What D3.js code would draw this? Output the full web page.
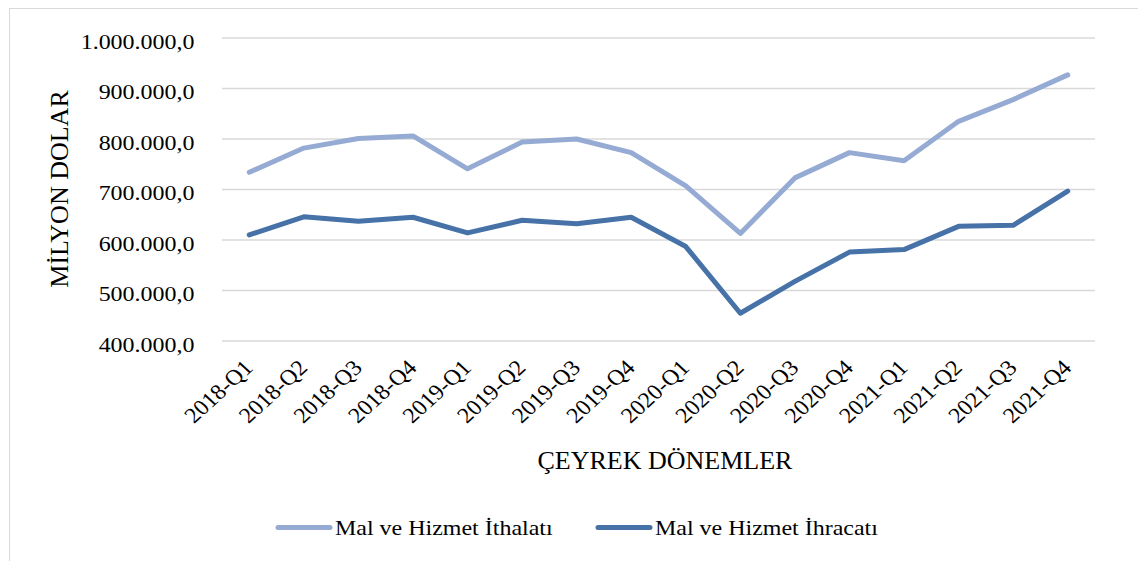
<!DOCTYPE html>
<html>
<head>
<meta charset="utf-8">
<script src="https://cdn.jsdelivr.net/npm/d3@7"></script>
<style>
  html, body { margin: 0; padding: 0; background: #fff; }
  svg { display: block; }
  text { font-family: "Liberation Serif", "Times New Roman", serif; fill: #000; }
</style>
</head>
<body>
<svg id="chart" width="1138" height="561"></svg>
<script>
const categories = ["2018-Q1","2018-Q2","2018-Q3","2018-Q4","2019-Q1","2019-Q2","2019-Q3","2019-Q4",
                    "2020-Q1","2020-Q2","2020-Q3","2020-Q4","2021-Q1","2021-Q2","2021-Q3","2021-Q4"];
const importsValues = [734000, 782000, 801000, 806000, 741000, 794000, 800000, 773000,
                       707000, 613000, 723000, 773000, 757000, 835000, 878000, 927000];
const exportsValues = [610000, 646000, 637000, 645000, 614000, 639000, 632000, 645000,
                       587000, 455000, 518000, 576000, 581000, 627000, 629000, 697000];
const yTicks = [400000, 500000, 600000, 700000, 800000, 900000, 1000000];
const seriesNames = ["Mal ve Hizmet İthalatı", "Mal ve Hizmet İhracatı"];
const seriesColors = ["#95abd3", "#4672a8"];
const yTitle = "MİLYON DOLAR";
const xTitle = "ÇEYREK DÖNEMLER";

const svg = d3.select("#chart");
const W = 1138, H = 561;
const plot = { left: 222, right: 1095, top: 38, bottom: 341 };
const STRETCH = 1.09;

// outer border
svg.append("rect").attr("x", 9.5).attr("y", 8.5).attr("width", W + 10).attr("height", H + 10)
  .attr("fill", "#fff").attr("stroke", "#d9d9d9").attr("stroke-width", 1);

const x = d3.scaleBand().domain(categories).range([plot.left, plot.right]);
const y = d3.scaleLinear().domain([400000, 1000000]).range([plot.bottom, plot.top]);
const fmt = v => d3.format(",.1f")(v).replace(/,/g, "#").replace(/\./g, ",").replace(/#/g, ".");

// gridlines
svg.append("g").selectAll("line").data(yTicks).join("line")
  .attr("x1", plot.left).attr("x2", plot.right)
  .attr("y1", d => y(d)).attr("y2", d => y(d))
  .attr("stroke", "#d9d9d9").attr("stroke-width", 1.4);

// y tick labels
svg.append("g").selectAll("text").data(yTicks).join("text")
  .attr("transform", d => `translate(194.5,${y(d) + 10.5}) scale(${STRETCH},1)`)
  .attr("text-anchor", "end").attr("font-size", 22)
  .text(d => fmt(d));

// x tick labels
svg.append("g").selectAll("text").data(categories).join("text")
  .attr("transform", d => `translate(${x(d) + x.bandwidth() / 2 + 5},369) scale(${STRETCH},1) rotate(-45)`)
  .attr("text-anchor", "end").attr("font-size", 22)
  .text(d => d);

// lines
const line = d3.line().x((d, i) => x(categories[i]) + x.bandwidth() / 2).y(d => y(d));
[importsValues, exportsValues].forEach((vals, k) => {
  svg.append("path").datum(vals)
    .attr("d", line).attr("fill", "none")
    .attr("stroke", seriesColors[k]).attr("stroke-width", 5)
    .attr("stroke-linejoin", "round").attr("stroke-linecap", "round");
});

// axis titles
svg.append("text").attr("transform", "translate(68,189) rotate(-90)")
  .attr("text-anchor", "middle").attr("font-size", 26).text(yTitle);
svg.append("text").attr("x", 665).attr("y", 469)
  .attr("text-anchor", "middle").attr("font-size", 26).text(xTitle);

// legend
const legendItems = [{ x: 276, name: seriesNames[0], color: seriesColors[0] },
                     { x: 596, name: seriesNames[1], color: seriesColors[1] }];
const lg = svg.append("g").selectAll("g").data(legendItems).join("g");
lg.append("line").attr("x1", d => d.x + 2).attr("x2", d => d.x + 54)
  .attr("y1", 527.5).attr("y2", 527.5)
  .attr("stroke", d => d.color).attr("stroke-width", 5).attr("stroke-linecap", "round");
lg.append("text").attr("transform", d => `translate(${d.x + 59},534.5) scale(${STRETCH},1)`)
  .attr("font-size", 22).text(d => d.name);
</script>
</body>
</html>
